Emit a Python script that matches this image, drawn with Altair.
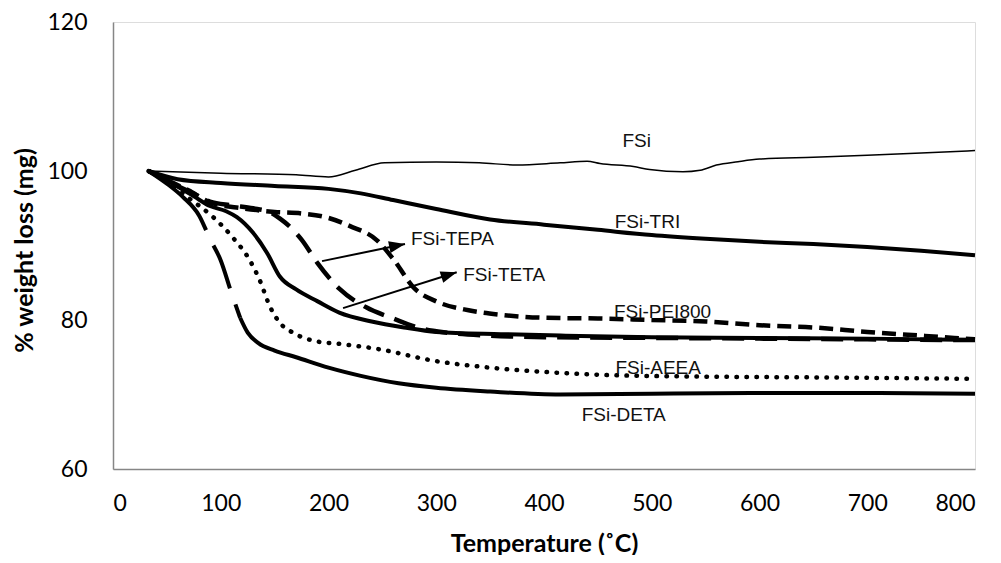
import math
import altair as alt
import pandas as pd

# ---------------- data ----------------
fsi_t = [33, 100, 170, 200, 225, 252, 300, 340, 375, 415, 440, 452, 483, 498, 529, 545, 560, 580, 600, 650, 700, 750, 800]
fsi_w = [100, 99.7, 99.5, 99.2, 100.1, 101.1, 101.2, 101.1, 100.8, 101.1, 101.3, 101.0, 100.6, 100.2, 99.9, 100.1, 100.8, 101.25, 101.6, 101.85, 102.1, 102.4, 102.75]

tri_t = [33, 60, 100, 150, 200, 230, 260, 300, 350, 400, 450, 500, 550, 600, 650, 700, 750, 800]
tri_w = [100, 98.9, 98.4, 98.0, 97.6, 97.0, 96.1, 94.9, 93.5, 92.8, 92.1, 91.4, 90.9, 90.5, 90.2, 89.8, 89.3, 88.7]

pei_t = [33, 50, 70, 90, 120, 150, 175, 200, 220, 245, 260, 280, 300, 330, 360, 400, 450, 500, 550, 600, 650, 700, 750, 800]
pei_w = [100, 98.8, 97.4, 95.8, 95.0, 94.5, 94.3, 93.7, 92.6, 90.7, 88.2, 84.2, 82.5, 81.3, 80.7, 80.3, 80.2, 80.0, 79.8, 79.3, 79.0, 78.4, 77.9, 77.4]

tepa_t = [33, 50, 70, 90, 110, 130, 145, 155, 165, 175, 190, 210, 235, 260, 285, 310, 350, 400, 500, 600, 700, 800]
tepa_w = [100, 98.7, 97.3, 95.9, 95.4, 95.0, 94.5, 93.6, 92.4, 90.8, 87.6, 84.2, 81.7, 80.2, 78.9, 78.3, 77.9, 77.7, 77.6, 77.5, 77.4, 77.3]

teta_t = [33, 50, 60, 75, 90, 105, 115, 130, 143, 155, 170, 190, 210, 240, 270, 300, 360, 420, 500, 600, 700, 800]
teta_w = [100, 98.8, 97.9, 96.6, 95.3, 94.6, 93.8, 91.7, 89.0, 85.8, 84.1, 82.5, 81.0, 79.8, 79.0, 78.4, 78.1, 77.9, 77.7, 77.6, 77.5, 77.3]

aeea_t = [33, 50, 70, 93, 111, 127, 136, 146, 155, 167, 190, 210, 250, 295, 350, 415, 460, 550, 650, 800]
aeea_w = [100, 98.6, 96.4, 93.8, 91.1, 88.0, 85.4, 81.7, 79.6, 78.3, 77.1, 76.8, 76.0, 74.6, 73.6, 72.9, 72.6, 72.4, 72.3, 72.1]

deta_t = [33, 50, 65, 80, 90, 100, 110, 118, 125, 135, 150, 170, 200, 230, 265, 300, 350, 415, 500, 600, 700, 800]
deta_w = [100, 98.3, 96.5, 94.0, 90.9, 88.0, 83.6, 80.3, 78.3, 76.9, 75.9, 75.0, 73.6, 72.5, 71.5, 70.9, 70.4, 70.0, 70.1, 70.2, 70.2, 70.1]

label_names = ["FSi", "FSi-TRI", "FSi-PEI800", "FSi-AEEA", "FSi-DETA", "FSi-TEPA", "FSi-TETA"]
label_t = [486, 496, 510, 506, 474, 315, 363]
label_w = [104.0, 93.2, 81.1, 73.6, 67.2, 90.9, 86.0]

arrow_tail_t = [194, 213.5]
arrow_tail_w = [87.9, 81.6]
arrow_tip_t = [271, 319]
arrow_tip_w = [90.2, 86.4]

x_ticks = [0, 100, 200, 300, 400, 500, 600, 700, 800]
y_ticks = [60, 80, 100, 120]

# ---------------- build tables ----------------
series = [
    ("FSi", fsi_t, fsi_w),
    ("FSi-TRI", tri_t, tri_w),
    ("FSi-PEI800", pei_t, pei_w),
    ("FSi-TEPA", tepa_t, tepa_w),
    ("FSi-TETA", teta_t, teta_w),
    ("FSi-AEEA", aeea_t, aeea_w),
    ("FSi-DETA", deta_t, deta_w),
]
rows = []
for name, ts, ws in series:
    for t, w in zip(ts, ws):
        rows.append({"series": name, "T": t, "W": w})
df = pd.DataFrame(rows)

labels_df = pd.DataFrame({"label": label_names, "T": label_t, "W": label_w})

PW, PH = 862, 447
XMIN, XMAX, YMIN, YMAX = 0, 800, 60, 120

x_axis = alt.Axis(
    values=x_ticks, title="Temperature (˚C)", grid=False, ticks=False,
    domainColor="#868686", domainWidth=1.5,
    labelFont="Lato", labelFontSize=23, labelColor="#000000", labelPadding=23,
    titleFont="Lato", titleFontSize=25, titleFontWeight="bold", titleColor="#000000",
    titleY=82, titleBaseline="alphabetic",
)
y_axis = alt.Axis(
    values=y_ticks, title="% weight loss (mg)", grid=False, ticks=False,
    domainColor="#868686", domainWidth=1.5,
    labelFont="Lato", labelFontSize=23, labelColor="#000000", labelPadding=26,
    titleFont="Lato", titleFontSize=25, titleFontWeight="bold", titleColor="#000000",
    titleX=-89, titleY=228, titleBaseline="middle", titleAlign="center",
)
xs = alt.Scale(domain=[XMIN, XMAX], nice=False, zero=False)
ys = alt.Scale(domain=[YMIN, YMAX], nice=False, zero=False)

X = alt.X("T:Q", scale=xs, axis=x_axis)
Y = alt.Y("W:Q", scale=ys, axis=y_axis)

base = alt.Chart(df)

styles = {
    "FSi": dict(strokeWidth=1.5),
    "FSi-TRI": dict(strokeWidth=4),
    "FSi-PEI800": dict(strokeWidth=4.5, strokeDash=[14, 7]),
    "FSi-TEPA": dict(strokeWidth=4.5, strokeDash=[22, 11]),
    "FSi-TETA": dict(strokeWidth=4),
    "FSi-AEEA": dict(strokeWidth=4.5, strokeDash=[0.5, 9.5], strokeCap="round"),
}
DETA_DASH_END = 118

layers = []
for name in ["FSi", "FSi-TRI", "FSi-AEEA", "FSi-TETA", "FSi-PEI800", "FSi-TEPA"]:
    layers.append(
        base.transform_filter(alt.datum.series == name)
        .mark_line(color="black", interpolate="monotone", **styles[name])
        .encode(x=X, y=Y)
    )
# DETA: long dashes on the steep start, solid afterwards
layers.append(
    base.transform_filter((alt.datum.series == "FSi-DETA") & (alt.datum.T <= DETA_DASH_END))
    .mark_line(color="black", interpolate="monotone", strokeWidth=4, strokeDash=[84, 17, 46, 17])
    .encode(x=X, y=Y)
)
layers.append(
    base.transform_filter((alt.datum.series == "FSi-DETA") & (alt.datum.T >= DETA_DASH_END))
    .mark_line(color="black", interpolate="monotone", strokeWidth=4)
    .encode(x=X, y=Y)
)

# arrows
px_t = PW / (XMAX - XMIN)
px_w = PH / (YMAX - YMIN)
for t0, w0, t1, w1 in zip(arrow_tail_t, arrow_tail_w, arrow_tip_t, arrow_tip_w):
    adf = pd.DataFrame({"T": [t0], "W": [w0], "T2": [t1], "W2": [w1]})
    layers.append(
        alt.Chart(adf).mark_rule(color="black", strokeWidth=2)
        .encode(x=X, y=Y, x2="T2:Q", y2="W2:Q")
    )
    ang = (-math.degrees(math.atan2((w1 - w0) * px_w, (t1 - t0) * px_t))) % 360
    hdf = pd.DataFrame({"T": [t1], "W": [w1]})
    layers.append(
        alt.Chart(hdf).mark_point(
            shape="M0,0L-2,-0.75L-2,0.75Z", filled=True, color="black",
            opacity=1, size=256, angle=ang, strokeWidth=0,
        ).encode(x=X, y=Y)
    )

layers.append(
    alt.Chart(labels_df).mark_text(
        font="Liberation Sans", fontSize=19, color="#111111", align="center", baseline="middle"
    ).encode(x=X, y=Y, text="label:N")
)

chart = alt.layer(*layers).properties(
    width=PW, height=PH,
    autosize=alt.AutoSizeParams(type="none"),
    padding={"left": 105, "top": 14, "right": 10, "bottom": 86},
).configure_view(stroke=None).configure(background="white")

chart.save("out.html", embed_options={"renderer": "svg", "actions": False})
